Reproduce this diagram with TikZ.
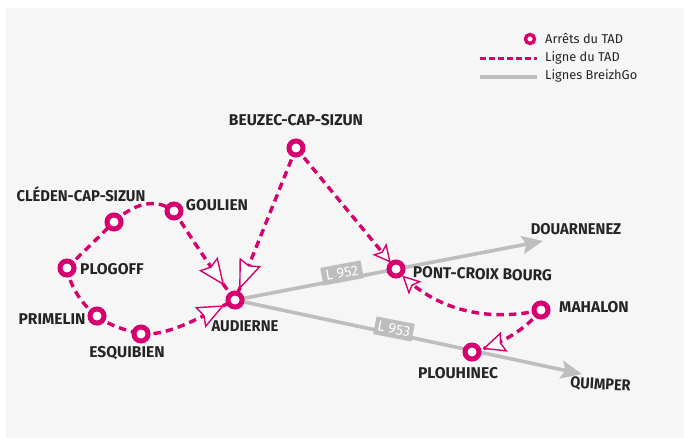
\documentclass[tikz,border=0pt]{standalone}
\usepackage{fontspec}
\setmainfont{Fira Sans}
\usetikzlibrary{arrows.meta,decorations.markings}
\definecolor{tadpink}{HTML}{D6006F}
\definecolor{bzgrey}{HTML}{BEBEBE}
\definecolor{panel}{HTML}{F6F6F6}
\definecolor{ink}{HTML}{252525}
\tikzset{
  x=1pt,y=-1pt,
  stop/.style={circle,draw=none,fill=none,minimum size=14pt,inner sep=0pt},
  place/.style={font=\fontsize{15.6}{17}\selectfont\bfseries,text=ink,inner sep=0pt},
  leg/.style={font=\fontsize{12.8}{14}\selectfont,text=ink,inner sep=0pt,anchor=west},
  tad/.style={draw=tadpink,line width=3.4pt,dash pattern=on 7.5pt off 5pt},
  bzg/.style={draw=bzgrey,line width=3.6pt,-{Stealth[length=21pt,width=18pt,inset=4pt]}},
  tadhead/.style n args={3}{postaction={decorate},decoration={markings,
      mark=at position #1 with {\arrow[line width=1.4pt,solid]{Stealth[length=#2,width=#3,inset=3.5pt,fill=white,color=tadpink]}}}},
  linebox/.style={fill=bzgrey,text=white,font=\fontsize{14.5}{16}\selectfont,inner sep=0pt,minimum width=41pt,minimum height=18pt}
}
\begin{document}
\begin{tikzpicture}
\useasboundingbox (0,0) rectangle (684,438);
\fill[white] (0,0) rectangle (684,438);
\fill[panel] (6,8) rectangle (684,438);
\node[stop] (audierne) at (235,300) {};
\node[stop] (pontcroix) at (396,269) {};
\node[stop] (plouhinec) at (472,352) {};
\coordinate (douarnenezEnd) at (543,241);
\coordinate (quimperEnd) at (582,374);
\draw[bzg] (audierne.center) -- (douarnenezEnd);
\draw[bzg] (audierne.center) -- (quimperEnd);
\node[linebox,rotate=10.5] (l952) at (342,273) {L 952};
\node[linebox,rotate=-11,minimum width=39pt] (l953) at (394,329) {L 953};
\node[stop] (plogoff) at (67,268) {};
\node[stop] (cleden) at (114,222) {};
\node[stop] (goulien) at (174,211) {};
\node[stop] (primelin) at (97,316) {};
\node[stop] (esquibien) at (141,334) {};
\node[stop] (beuzec) at (296,148) {};
\node[stop] (mahalon) at (541,310) {};
% TAD line
\draw[tad] (plogoff.center) -- (cleden.center);
\draw[tad] (cleden.center) .. controls (133,204) and (155,197) .. (goulien.center);
\draw[tad,tadhead={-18pt}{27pt}{23pt}] (goulien.center) .. controls (190,236) and (212,270) .. (audierne.center);
\draw[tad] (plogoff.center) .. controls (70,285) and (80,303) .. (primelin.center);
\draw[tad] (primelin.center) .. controls (110,326) and (125,330) .. (esquibien.center);
\draw[tad,tadhead={-12pt}{27pt}{23pt}] (esquibien.center) .. controls (172,336) and (205,314) .. (audierne.center);
\draw[tad,tadhead={-11pt}{30pt}{23pt}] (beuzec.center) -- (audierne.center);
\draw[tad,tadhead={-8pt}{18pt}{18pt}] (beuzec.center) -- (pontcroix.center);
\draw[tad,tadhead={-9pt}{18pt}{18pt}] (mahalon.center) .. controls (490,322) and (435,312) .. (pontcroix.center);
\draw[tad,tadhead={-11pt}{23pt}{21pt}] (mahalon.center) .. controls (525,330) and (500,345) .. (plouhinec.center);
% stop rings
\foreach \s in {audierne,pontcroix,plouhinec,plogoff,cleden,goulien,primelin,esquibien,beuzec,mahalon}
  \draw[tadpink,fill=white,line width=5pt] (\s.center) circle (7pt);
\draw[white,line width=.7pt] (132.5,239.5) -- (136.5,236);
% labels
\node[place] (tbeuzec) at (296,120) {BEUZEC-CAP-SIZUN};
\node[place,xscale=.95] (tcleden) at (81,194) {CLÉDEN-CAP-SIZUN};
\node[place] (tgoulien) at (217,205.5) {GOULIEN};
\node[place] (tplogoff) at (112,269.5) {PLOGOFF};
\node[place] (tprimelin) at (52,319.5) {PRIMELIN};
\node[place] (tesquibien) at (127,353.5) {ESQUIBIEN};
\node[place,xscale=.95] (taudierne) at (245,326) {AUDIERNE};
\node[place,rotate=-1.5,xscale=.985] (tpont) at (482.5,274) {PONT-CROIX BOURG};
\node[place,xscale=.95] (tdouarnenez) at (576,229) {DOUARNENEZ};
\node[place] (tmahalon) at (594,307) {MAHALON};
\node[place] (tplouhinec) at (458,373) {PLOUHINEC};
\node[place,rotate=-3,xscale=.93] (tquimper) at (600.5,385) {QUIMPER};
% legend
\node[circle,draw=tadpink,fill=white,line width=3.4pt,minimum size=9pt,inner sep=0pt] (legstop) at (530,39) {};
\coordinate (legAa) at (480,59); \coordinate (legAb) at (537,59);
\coordinate (legBa) at (480,77); \coordinate (legBb) at (537,77);
\draw[draw=tadpink,line width=3pt,dash pattern=on 6pt off 3pt] (legAa) -- (legAb);
\draw[draw=bzgrey,line width=4.5pt] (legBa) -- (legBb);
\node[leg] (l1) at (545,39) {Arrêts du TAD};
\node[leg] (l2) at (545,57.5) {Ligne du TAD};
\node[leg] (l3) at (545,75.5) {Lignes BreizhGo};
\end{tikzpicture}
\end{document}
